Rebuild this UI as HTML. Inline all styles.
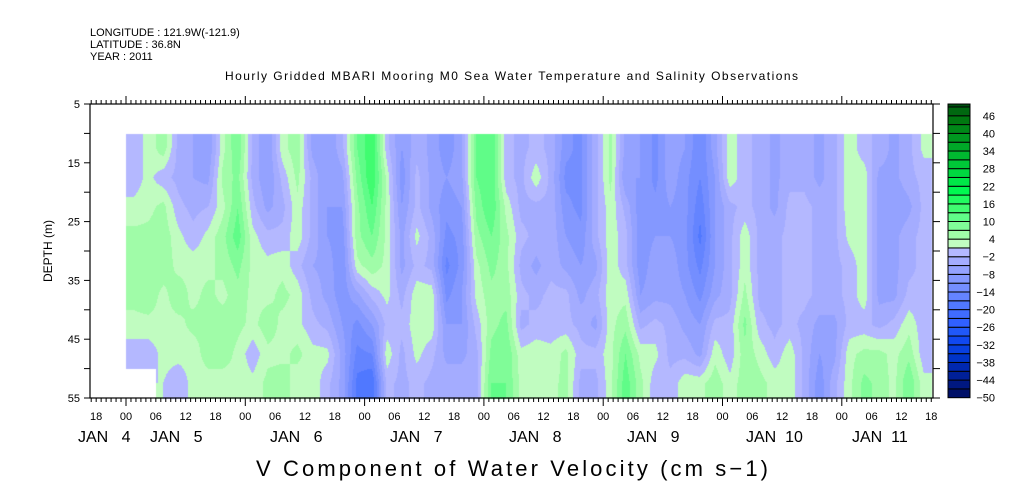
<!DOCTYPE html>
<html><head><meta charset="utf-8">
<style>
html,body{margin:0;padding:0;background:#fff;}
#wrap{position:relative;width:1009px;height:504px;overflow:hidden;font-family:"Liberation Sans",sans-serif;}
canvas,svg{position:absolute;left:0;top:0;}
</style></head>
<body>
<div id="wrap">
<canvas id="hm" width="1009" height="504"></canvas>
<svg id="ax" width="1009" height="504"></svg>
</div>
<script>
// Column start hours (from JAN 4 00:00), 3-hour bins
const colStartHours = [0,3,6,9,12,15,18,21,24,27,30,33,36,39,42,45,48,51,54,57,60,63,66,69,72,75,78,81,84,87,90,93,96,99,102,105,108,111,114,117,120,123,126,129,132,135,138,141,144,147,150,153,156,159];
// Depth bin tops (m), each 5 m thick
const depthTops = [10,15,20,25,30,35,40,45,50];
// V velocity (cm/s), one array per time column, top to bottom
const vel = [
[-1,-1,2,5,6,5,3,-1,null],[2,2,3,5,7,6,3,-1,null],[6,-1,5,6,6,3,3,2,1],[-3,-3,-1,2,3,6,3,2,-1],
[-5,-5,-3,-1,3,3,5,2,2],[-8,-6,-2,2,3,5,5,6,2],[3,5,3,6,5,3,6,6,2],[10,8,10,12,8,6,5,3,3],
[-3,-3,-1,2,3,3,3,-1,2],[-8,-8,-6,-1,2,3,6,3,5],[3,-1,-3,-1,3,5,3,3,6],[6,5,3,3,-1,3,2,5,2],
[-6,-3,-3,-3,-5,-3,-1,2,3],[-8,-8,-8,-8,-6,-6,-3,2,-1],[-3,-6,-8,-10,-11,-10,-8,-6,-6],[10,8,6,6,3,-6,-12,-15,-18],
[16,16,13,10,6,-1,-8,-14,-20],[-1,3,3,3,3,2,-1,3,-1],[-8,-10,-8,-6,-6,-3,-1,-3,-3],[-3,-1,-1,2,-1,3,3,2,-1],
[-6,-6,-6,-3,-3,3,3,-1,-3],[-10,-8,-10,-12,-15,-12,-8,-6,-3],[-6,-6,-8,-10,-10,-8,-8,-6,-3],[10,10,8,6,3,2,-1,-3,-3],
[13,13,13,10,8,6,6,8,10],[-1,-1,3,5,5,6,8,10,10],[-3,-3,-3,-1,-3,-1,-3,2,3],[-1,3,-3,-3,-6,-3,-1,3,2],
[-3,-3,-3,-3,-3,-1,-1,2,3],[-10,-12,-10,-8,-6,-1,-1,5,5],[-12,-12,-12,-10,-8,-6,-3,-1,-3],[-3,-3,-3,-3,-6,-3,-6,-1,-3],
[5,5,3,3,3,3,3,3,3],[-6,-8,-3,-1,-1,3,6,10,12],[-8,-8,-10,-10,-10,-8,-3,3,5],[-12,-12,-10,-8,-6,-6,-1,2,-1],
[-6,-6,-8,-8,-6,-6,-3,-3,-1],[-8,-10,-10,-10,-10,-8,-6,-3,3],[-14,-14,-16,-18,-15,-12,-8,-6,3],[-6,-8,-8,-8,-8,-6,-1,3,6],
[3,3,-3,-3,-3,-3,-1,-1,2],[-1,-1,-1,3,3,5,8,6,6],[-3,-3,-3,-3,-3,-3,-1,3,5],[-6,-6,-6,-3,-3,-3,-3,-1,3],
[-3,-3,-1,-1,-1,-1,-1,3,3],[-3,-3,-1,-1,-1,-1,-3,-3,-3],[-6,-6,-3,-3,-3,-3,-6,-8,-10],[-3,-3,-3,-3,-3,-3,-6,-6,-3],
[3,3,3,2,-1,-1,-1,3,3],[-1,3,3,3,3,3,-1,5,8],[-3,-6,-6,-6,-6,-6,-3,5,6],[-6,-6,-8,-6,-6,-6,-1,3,3],
[-3,-3,-6,-3,-3,-1,3,6,10],[2,-1,-1,-1,-1,-1,-1,-1,2]
];
// Colour scale levels
const levelStart = -50, levelStep = 3;
const levelColors = ["#001068","#001880","#002098","#0028b0","#0034c8","#0840e0","#1048f0","#2058f8","#3060ff","#406cff","#5078ff","#6484ff","#748eff","#8498ff","#94a2ff","#a4acff","#b4b8ff",
"#c0fcc0","#a0fca8","#80fc98","#60fc88","#40fc70","#20fc60","#00f850","#00e848","#00d840","#00c838","#00b830","#00a828","#009820","#008818","#007810","#006810","#005010"];
const colorLabels = [46,40,34,28,22,16,10,4,-2,-8,-14,-20,-26,-32,-38,-44,-50];
const hourLabels = ["18","00","06","12","18","00","06","12","18","00","06","12","18","00","06","12","18","00","06","12","18","00","06","12","18","00","06","12","18"];
const dayLabels = ["JAN   4","JAN   5","JAN   6","JAN   7","JAN   8","JAN   9","JAN  10","JAN  11"];
const dayLabelX = [78,150,270,390,509,627,746,852];
const depthLabels = [5,15,25,35,45,55];

// axis functions
const X0=90, X1=933, Y0=104, Y1=398;
const xH = h => 126 + h*119.3/24;
const yD = d => Y0 + (d-5)*(Y1-Y0)/50;
const hOfX = x => (x-126)*24/119.3;
const dOfY = y => 5 + (y-Y0)*50/(Y1-Y0);
const colorOf = v => { let i=Math.floor((v-levelStart)/levelStep); i=Math.max(0,Math.min(levelColors.length-1,i)); return levelColors[i]; };

// heatmap
(function(){
  const cv=document.getElementById('hm'), ctx=cv.getContext('2d');
  const nC=vel.length, nR=depthTops.length;
  const rgb = levelColors.map(c=>[parseInt(c.substr(1,2),16),parseInt(c.substr(3,2),16),parseInt(c.substr(5,2),16)]);
  const xs=Math.ceil(xH(colStartHours[0])), xe=Math.min(X1-1,Math.floor(xH(colStartHours[nC-1]+3)));
  const ys=Math.ceil(yD(depthTops[0])), ye=Math.floor(yD(depthTops[nR-1]+5));
  const img=ctx.createImageData(xe-xs+1, ye-ys+1);
  const get=(c,r)=>{c=Math.max(0,Math.min(nC-1,c));r=Math.max(0,Math.min(nR-1,r));return vel[c][r];};
  for(let py=ys;py<=ye;py++){
    const d=dOfY(py+0.5); const fr=(d-depthTops[0])/5-0.5;
    for(let px=xs;px<=xe;px++){
      const h=hOfX(px+0.5); const fc=(h-colStartHours[0])/3-0.5;
      const nc=Math.floor(fc+0.5), nr=Math.floor(fr+0.5);
      if(get(nc,nr)===null) continue;
      const c0=Math.floor(fc), r0=Math.floor(fr), tx=fc-c0, ty=fr-r0;
      let s=0,w=0;
      [[c0,r0,(1-tx)*(1-ty)],[c0+1,r0,tx*(1-ty)],[c0,r0+1,(1-tx)*ty],[c0+1,r0+1,tx*ty]].forEach(q=>{const v=get(q[0],q[1]); if(v!==null){s+=v*q[2];w+=q[2];}});
      const v=s/w;
      let i=Math.floor((v-levelStart)/levelStep); i=Math.max(0,Math.min(rgb.length-1,i));
      const o=((py-ys)*(xe-xs+1)+(px-xs))*4;
      img.data[o]=rgb[i][0];img.data[o+1]=rgb[i][1];img.data[o+2]=rgb[i][2];img.data[o+3]=255;
    }
  }
  ctx.putImageData(img,xs,ys);
})();

// axes
(function(){
  const svg=document.getElementById('ax'), NS='http://www.w3.org/2000/svg';
  function el(tag,attrs,parent){const e=document.createElementNS(NS,tag);for(const k in attrs)e.setAttribute(k,attrs[k]);(parent||svg).appendChild(e);return e;}
  function txt(s,attrs,name){const t=el('text',attrs);t.textContent=s;
    
    
    return t;}
  const base={'font-family':'Liberation Sans, sans-serif',fill:'#000'};
  txt('LONGITUDE : 121.9W(-121.9)',Object.assign({x:90,y:36,'font-size':11},base),'longitude-label');
  txt('LATITUDE : 36.8N',Object.assign({x:90,y:48,'font-size':11},base),'latitude-label');
  txt('YEAR : 2011',Object.assign({x:90,y:60,'font-size':11},base),'year-label');
  txt('Hourly Gridded MBARI Mooring M0 Sea Water Temperature and Salinity Observations',Object.assign({x:225,y:80,'font-size':12,textLength:573},base),'chart-title');
  const frame=el('rect',{x:X0,y:Y0,width:X1-X0,height:Y1-Y0,fill:'none',stroke:'#000','stroke-width':1.2});
  
  
  // time ticks
  const g=el('g',{stroke:'#000','stroke-width':1});
  
  
  for(let h=-7;h<=162;h++){
    const x=xH(h); if(x<X0||x>X1) continue;
    const major=((h%24)+24)%24===0;
    el('line',{x1:x,x2:x,y1:Y0,y2:Y0-(major?8:4)},g);
    el('line',{x1:x,x2:x,y1:Y1,y2:Y1+(major?8:4)},g);
  }
  hourLabels.forEach((s,i)=>{
    const t=txt(s,Object.assign({x:xH(-6+6*i),y:420,'font-size':11,'text-anchor':'middle'},base),'hour-tick-label');
  });
  dayLabels.forEach((s,i)=>{
    const t=txt(s,Object.assign({x:dayLabelX[i],y:442,'font-size':16,'xml:space':'preserve'},base),'day-tick-label');
    t.setAttribute('style','white-space:pre');
  });
  // depth ticks
  for(let d=5;d<=55;d+=5){
    const y=yD(d);
    const a=el('line',{x1:X0-6,x2:X0,y1:y,y2:y,stroke:'#000'});
    
    
    const b=el('line',{x1:X1,x2:X1+7,y1:y,y2:y,stroke:'#000'});
    
    
  }
  depthLabels.forEach(d=>{txt(String(d),Object.assign({x:X0-10,y:yD(d)+4,'font-size':11,'text-anchor':'end'},base),'depth-tick-label');});
  txt('DEPTH (m)',Object.assign({x:0,y:0,'font-size':12,'text-anchor':'middle',transform:'translate(52,251) rotate(-90)'},base),'y-axis-title');
  txt('V Component of Water Velocity (cm s\u22121)',Object.assign({x:256,y:476,'font-size':22,textLength:512},base),'x-axis-title');
  // colorbar
  const cb=el('g',{});
  
  
  const bh=8.81;
  levelColors.forEach((c,i)=>{
    let yb=397.7-i*bh, yt=yb-bh; if(yt<104) yt=104; if(yb<=104) return;
    const r=el('rect',{x:948,y:yt,width:22,height:yb-yt,fill:c,stroke:'#000','stroke-width':1},cb);
    
    
  });
  colorLabels.forEach(v=>{
    const y=397.7-(v-levelStart)/levelStep*bh;
    txt(v<0?'\u2212'+(-v):String(v),Object.assign({x:995,y:y+4,'font-size':11,'text-anchor':'end'},base),'colorbar-label');
  });
})();
</script>
</body></html>
